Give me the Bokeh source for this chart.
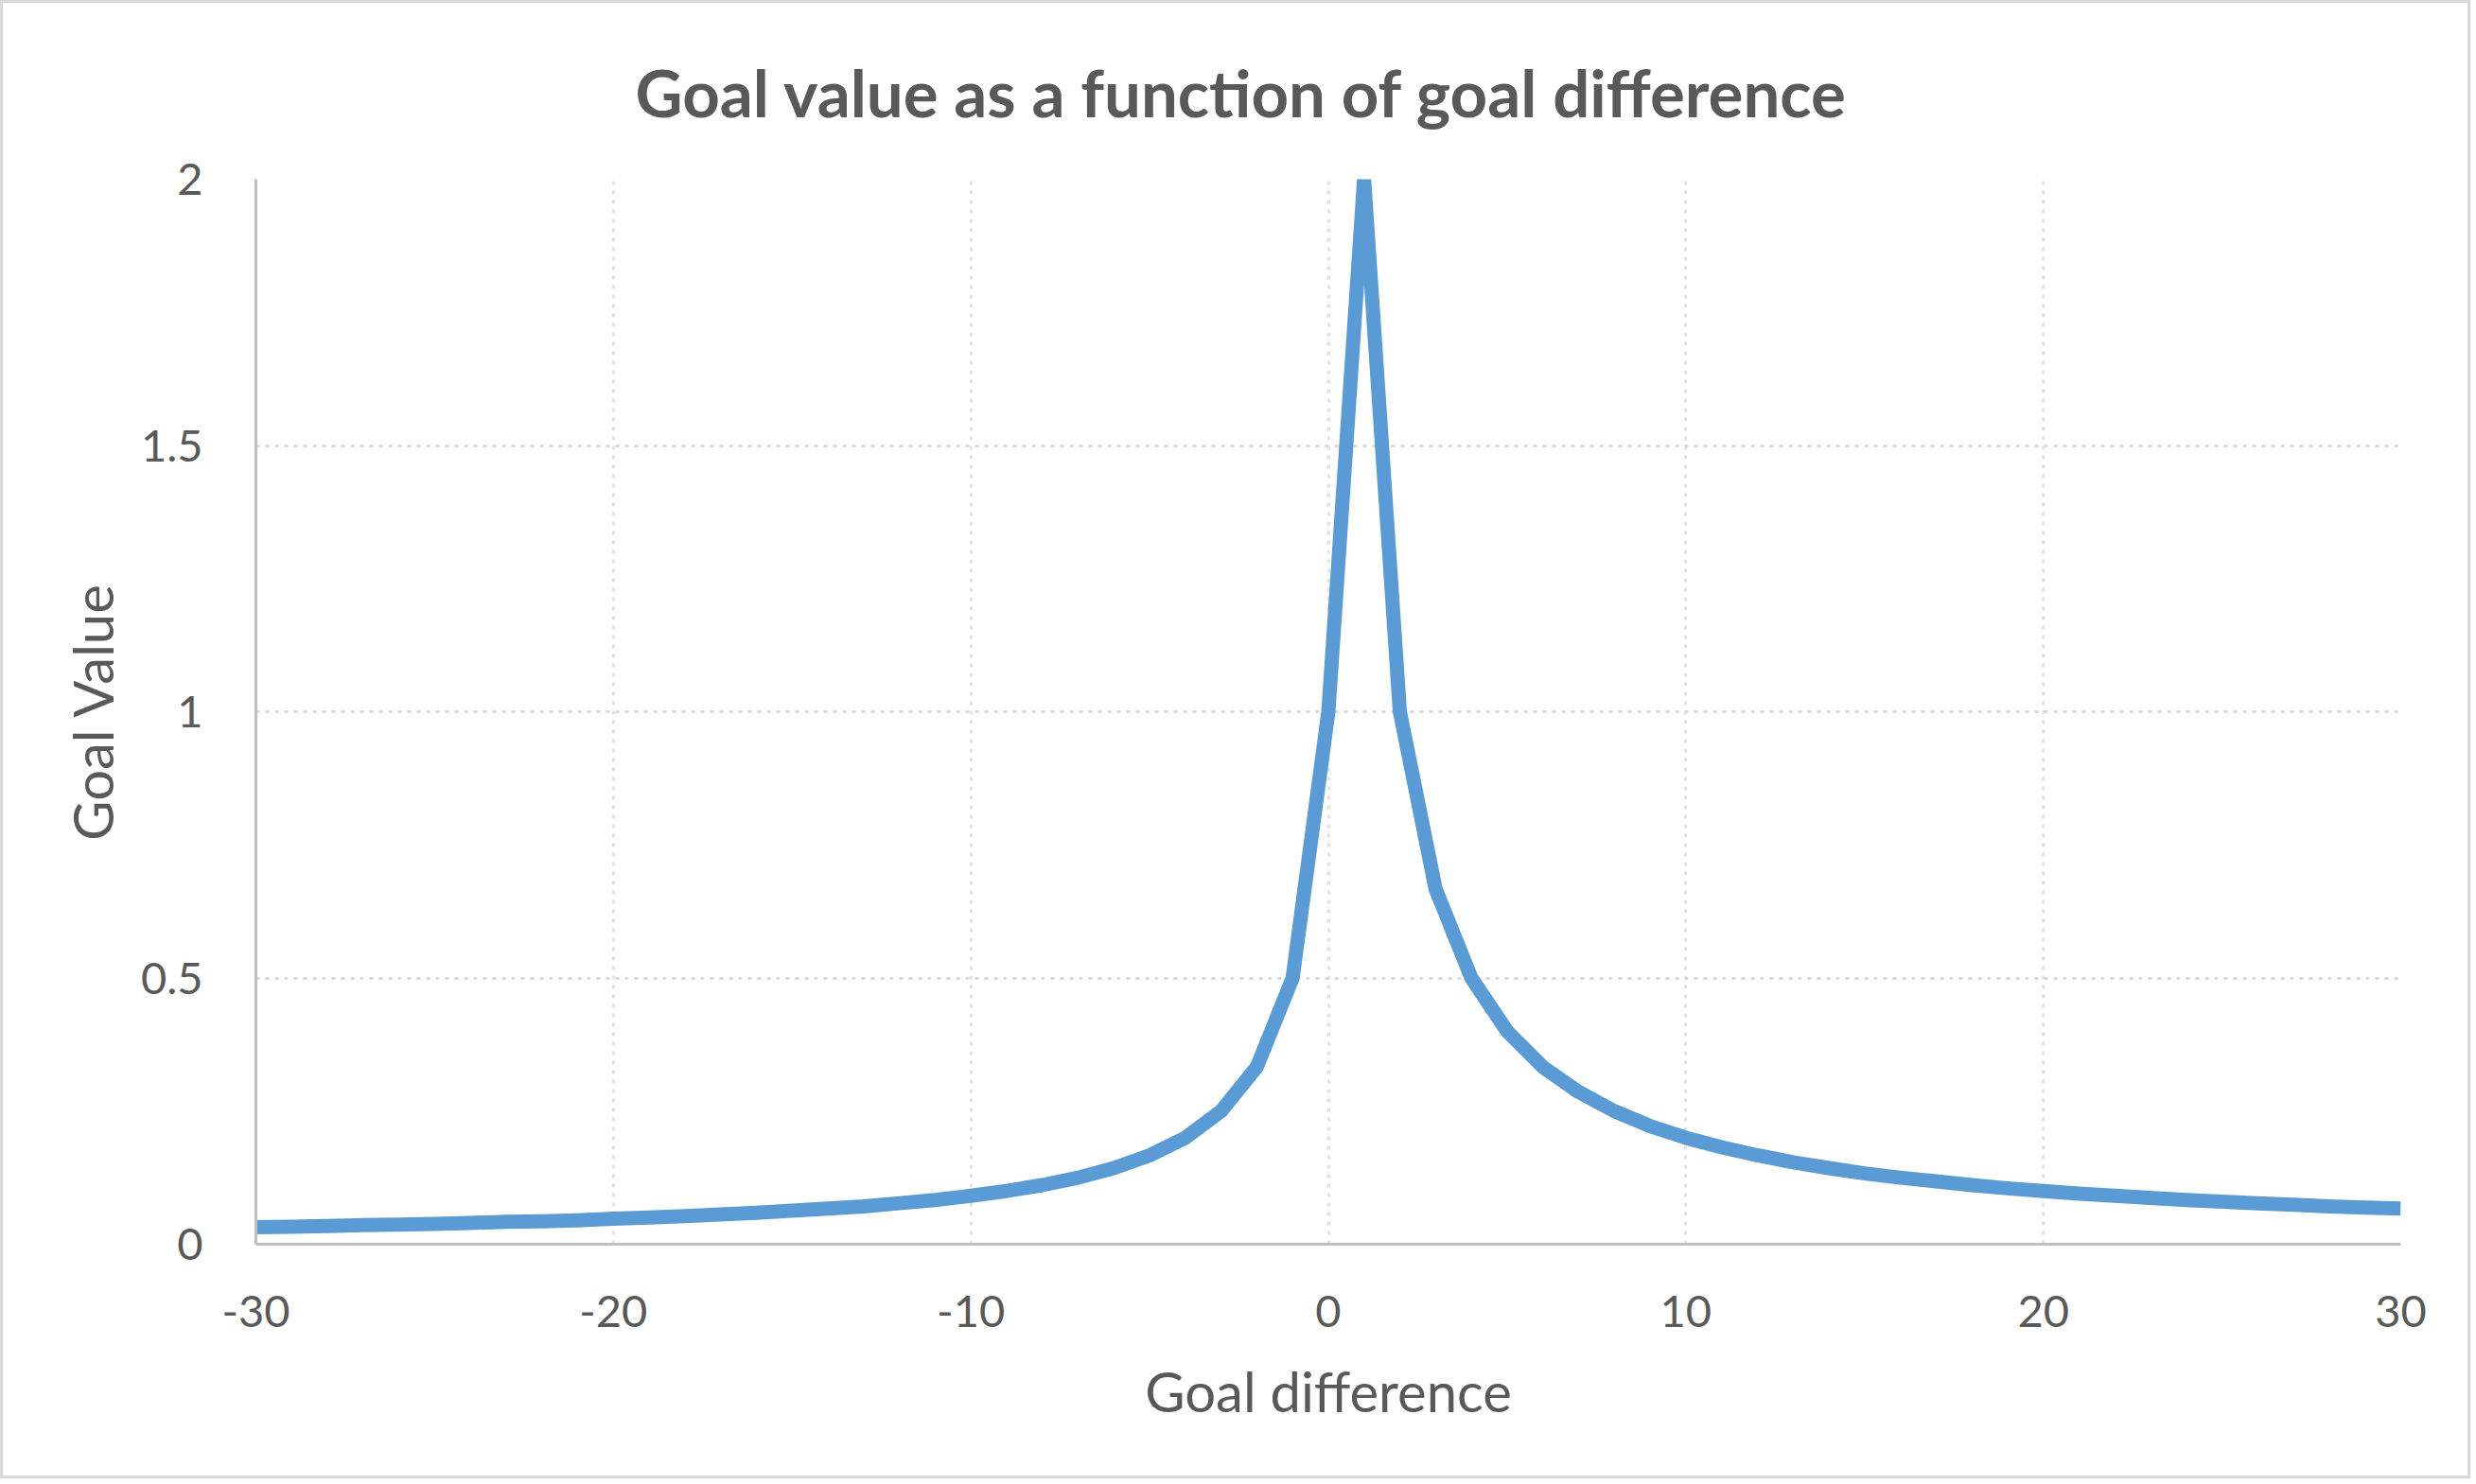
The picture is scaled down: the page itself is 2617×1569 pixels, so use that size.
from bokeh.plotting import figure
from bokeh.models import Range1d, FixedTicker
from bokeh.embed import file_html
from bokeh.resources import INLINE

# Data
goal_difference = [-30, -29, -28, -27, -26, -25, -24, -23, -22, -21,
                   -20, -19, -18, -17, -16, -15, -14, -13, -12, -11,
                   -10, -9, -8, -7, -6, -5, -4, -3, -2, -1,
                   0, 1, 2, 3, 4, 5, 6, 7, 8, 9,
                   10, 11, 12, 13, 14, 15, 16, 17, 18, 19,
                   20, 21, 22, 23, 24, 25, 26, 27, 28, 29, 30]
goal_value = [0.032, 0.033, 0.034, 0.036, 0.037, 0.038, 0.040, 0.042, 0.043, 0.045,
              0.048, 0.050, 0.053, 0.056, 0.059, 0.063, 0.067, 0.071, 0.077, 0.083,
              0.091, 0.100, 0.111, 0.125, 0.143, 0.167, 0.200, 0.250, 0.333, 0.500,
              1.000, 2.000, 1.000, 0.667, 0.500, 0.400, 0.333, 0.286, 0.250, 0.222,
              0.200, 0.182, 0.167, 0.154, 0.143, 0.133, 0.125, 0.118, 0.111, 0.105,
              0.100, 0.095, 0.091, 0.087, 0.083, 0.080, 0.077, 0.074, 0.071, 0.069, 0.067]
x_ticks = [-30, -20, -10, 0, 10, 20, 30]
x_tick_labels = ["-30", "-20", "-10", "0", "10", "20", "30"]
y_ticks = [0, 0.5, 1, 1.5, 2]
y_tick_labels = ["0", "0.5", "1", "1.5", "2"]

FONT = "Lato"
TXT = "#595959"

p = figure(width=2611, height=1563, output_backend="svg", toolbar_location=None,
           x_range=Range1d(-30, 30), y_range=Range1d(0, 2),
           title="Goal value as a function of goal difference",
           min_border_left=267, min_border_right=77,
           min_border_top=186, min_border_bottom=251)
p.styles = {"border": "3px solid #D9D9D9"}

p.title.align = "left"
p.title.vertical_align = "top"
p.title.text_font = FONT
p.title.text_font_style = "bold"
p.title.text_font_size = "69px"
p.title.text_color = TXT
p.title.standoff = 98
p.title.offset = 401

p.outline_line_color = None
p.background_fill_color = "white"
p.border_fill_color = "white"

# grids
p.xgrid.ticker = FixedTicker(ticks=x_ticks)
p.ygrid.ticker = FixedTicker(ticks=y_ticks)
p.ygrid.grid_line_color = "#D9D9D9"
p.ygrid.grid_line_width = 3
p.ygrid.grid_line_dash = "4 6"
p.xgrid.grid_line_color = "#E3E3E3"
p.xgrid.grid_line_width = 3
p.xgrid.grid_line_dash = "4 6"

# axes
for ax in (p.xaxis[0], p.yaxis[0]):
    ax.axis_line_color = "#BFBFBF"
    ax.axis_line_width = 3
    ax.major_tick_line_color = None
    ax.minor_tick_line_color = None
    ax.major_label_text_font = FONT
    ax.major_label_text_font_size = "47px"
    ax.major_label_text_color = TXT
    ax.axis_label_text_font = FONT
    ax.axis_label_text_font_size = "58px"
    ax.axis_label_text_color = TXT
    ax.axis_label_text_font_style = "normal"

p.xaxis.ticker = FixedTicker(ticks=x_ticks)
p.yaxis.ticker = FixedTicker(ticks=y_ticks)
p.xaxis.major_label_overrides = {t: l for t, l in zip(x_ticks, x_tick_labels)}
p.yaxis.major_label_overrides = {t: l for t, l in zip(y_ticks, y_tick_labels)}
p.xaxis.axis_label = "Goal difference"
p.yaxis.axis_label = "Goal Value"
p.yaxis.major_label_standoff = 50
p.xaxis.major_label_standoff = 48
p.yaxis.axis_label_standoff = 14
p.xaxis.axis_label_standoff = 30

p.line(goal_difference, goal_value, line_color="#5B9BD5", line_width=15,
       line_join="round", line_cap="butt")

open("out.html", "w").write(file_html(p, INLINE))
